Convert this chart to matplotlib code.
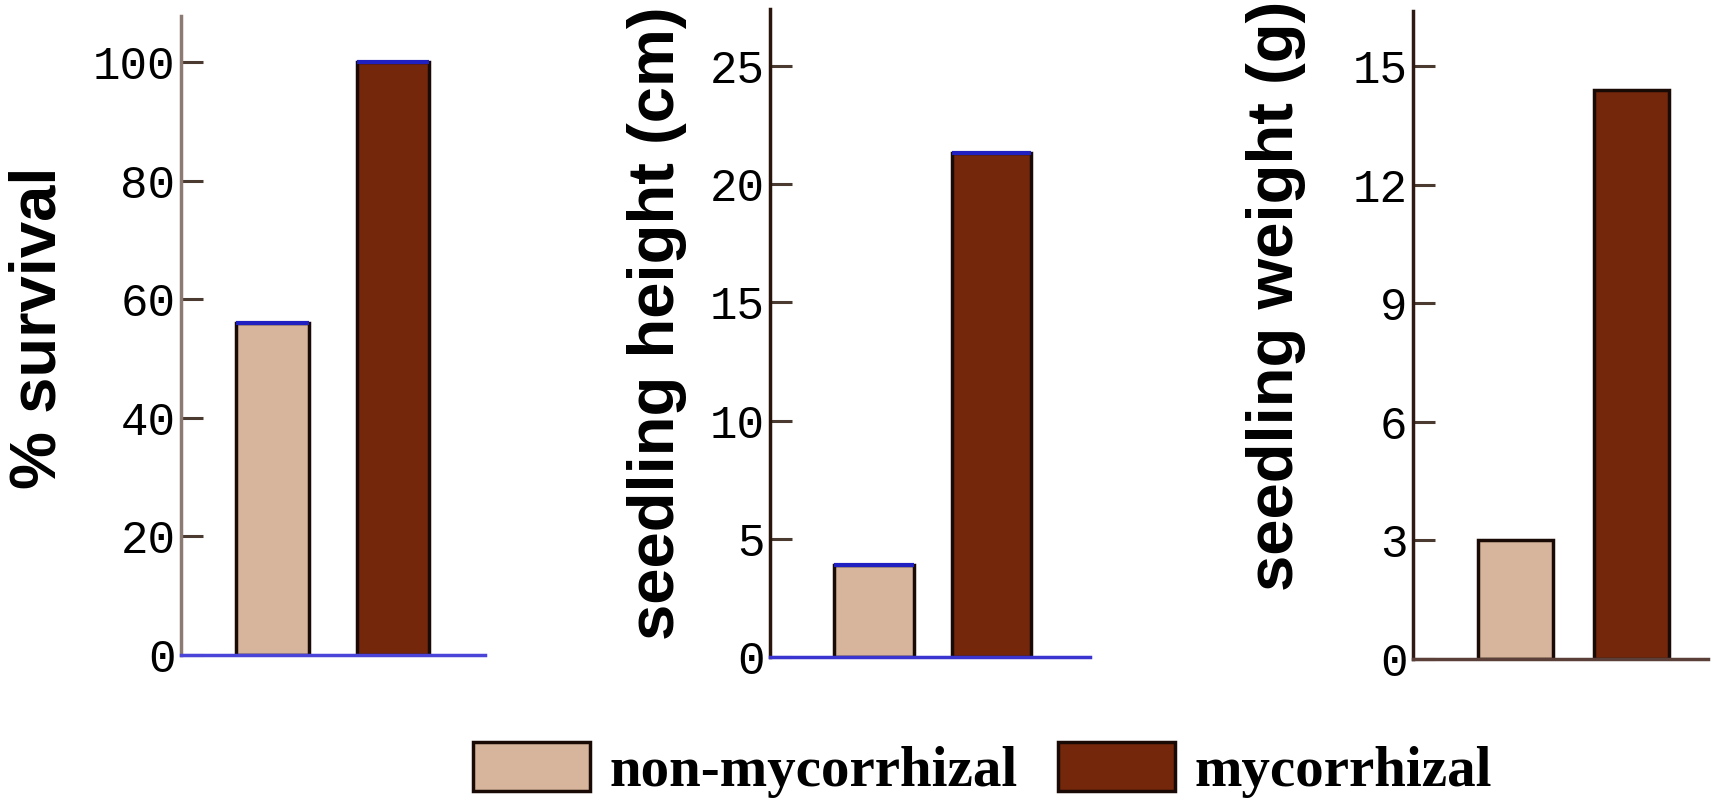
import matplotlib
matplotlib.use("Agg")
import matplotlib.pyplot as plt
from matplotlib.patches import Patch

# Data
groups = ["non-mycorrhizal", "mycorrhizal"]
survival_pct = [56, 100]
height_cm = [3.9, 21.3]
weight_g = [3.0, 14.4]

survival_ticks = [0, 20, 40, 60, 80, 100]
height_ticks = [0, 5, 10, 15, 20, 25]
weight_ticks = [0, 3, 6, 9, 12, 15]

colors = ["#D6B59C", "#74270B"]

W, H = 1717, 806
fig = plt.figure(figsize=(W / 100, H / 100), dpi=100)
fig.patch.set_facecolor("white")

tick_font = {"family": "Liberation Mono", "size": 33}
label_font = {"family": "Liberation Sans", "weight": "bold", "size": 47}

panels = [
    dict(rect=[181 / W, 1 - 655 / H, 304 / W, 639 / H], ytop=107.8,
         ticks=survival_ticks, vals=survival_pct, bw=0.60, xlim=(-0.754, 1.759),
         label="% survival", lpos=(38 / W, 1 - 328 / H),
         left_c="#8c7b72", bottom_c="#4a44d8", top_c="#2020c0"),
    dict(rect=[770 / W, 1 - 657 / H, 320 / W, 648 / H], ytop=27.4,
         ticks=height_ticks, vals=height_cm, bw=0.68, xlim=(-0.886, 1.839),
         label="seedling height (cm)", lpos=(657 / W, 1 - 323 / H),
         left_c="#2a150c", bottom_c="#3a34d0", top_c="#2020c0"),
    dict(rect=[1413 / W, 1 - 659 / H, 295 / W, 648 / H], ytop=16.4,
         ticks=weight_ticks, vals=weight_g, bw=0.65, xlim=(-0.888, 1.663),
         label="seedling weight (g)", lpos=(1276 / W, 1 - 296 / H),
         left_c="#2e1a12", bottom_c="#5a4038", top_c=None),
]

for p in panels:
    ax = fig.add_axes(p["rect"])
    xs = range(len(groups))
    ax.bar(xs, p["vals"], width=p["bw"], color=colors,
           edgecolor="#1a0a05", linewidth=2.5, zorder=2)
    if p["top_c"]:
        for x, v in zip(xs, p["vals"]):
            ax.hlines(v, x - p["bw"] / 2, x + p["bw"] / 2, color=p["top_c"],
                      linewidth=3, zorder=3)
    ax.set_xlim(*p["xlim"])
    ax.set_ylim(0, p["ytop"])
    ax.set_yticks(p["ticks"])
    ax.set_yticklabels([str(t) for t in p["ticks"]], fontdict=tick_font)
    ax.set_xticks([])
    for s in ("top", "right"):
        ax.spines[s].set_visible(False)
    ax.spines["left"].set_linewidth(2.5)
    ax.spines["bottom"].set_linewidth(2.5)
    ax.spines["left"].set_color(p["left_c"])
    ax.spines["bottom"].set_color(p["bottom_c"])
    ax.spines["bottom"].set_zorder(4)
    ax.tick_params(axis="y", direction="in", length=16, width=2.2,
                   color="#4a3a30", pad=4)
    ax.patch.set_alpha(0)
    fig.text(p["lpos"][0], p["lpos"][1], p["label"], rotation=90,
             ha="center", va="center", fontdict=label_font)

handles = [Patch(facecolor=c, edgecolor="#1a0a05", linewidth=2.5) for c in colors]
fig.legend(handles, groups, loc="center left",
           bbox_to_anchor=(473 / W, 1 - 770 / H), ncol=2, frameon=False,
           prop={"family": "Liberation Serif", "weight": "bold", "size": 41},
           handlelength=2.05, handleheight=0.95, handletextpad=0.35,
           columnspacing=0.7, borderpad=0, borderaxespad=0)

fig.savefig("out.png", dpi=100, facecolor="white")
